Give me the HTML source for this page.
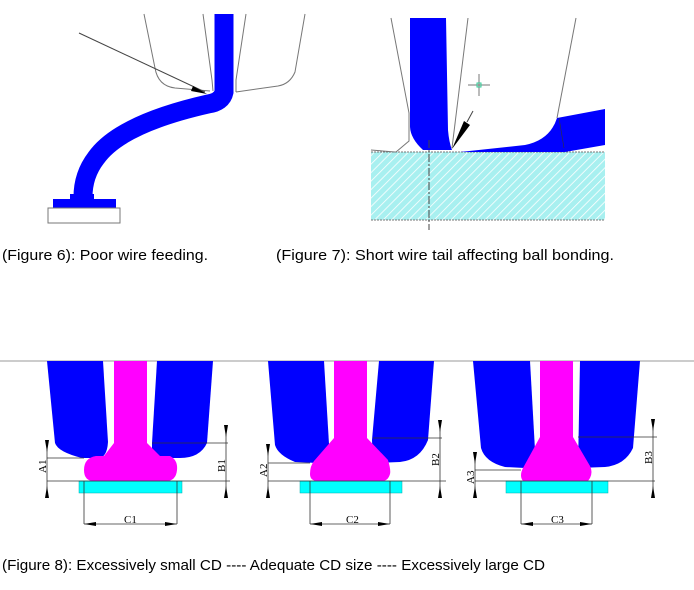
<!DOCTYPE html>
<html><head><meta charset="utf-8"><style>
html,body{margin:0;padding:0;background:#fff;width:694px;height:590px;overflow:hidden}
svg{display:block}
</style></head><body>
<svg width="694" height="590" viewBox="0 0 694 590" xmlns="http://www.w3.org/2000/svg" font-family="Liberation Sans, sans-serif">
<defs>
<pattern id="h" width="6" height="6" patternUnits="userSpaceOnUse" patternTransform="rotate(45)">
<rect width="6" height="6" fill="#a8f0f0"/><line x1="0" y1="0" x2="0" y2="6" stroke="#fff" stroke-width="1.6"/>
</pattern>
</defs>
<!-- Figure 6 -->
<g fill="none" stroke="#777" stroke-width="1">
<path d="M144,14 L155,68 Q158,86 175,88 L210,91"/>
<path d="M203,14 L212,80 L213,91"/>
<path d="M246,14 L236,80 L236,92"/>
<path d="M305,14 L295,72 Q290,84 278,86 L236,92"/>
</g>
<path d="M224,14 L224,92 Q222,102 208,104 Q120,124 96,158 Q83,175 83,197" fill="none" stroke="#0000ff" stroke-width="19"/>
<rect x="70" y="194" width="24" height="6" fill="#0000ff"/>
<rect x="53" y="199" width="63" height="9" fill="#0000ff"/>
<rect x="48" y="208" width="72" height="15" fill="#fff" stroke="#777"/>
<line x1="79" y1="33" x2="205" y2="92" stroke="#444" stroke-width="1"/>
<polygon points="207,94 193,86 191,91" fill="#000"/>
<!-- Figure 7 -->
<rect x="371" y="152" width="234" height="68" fill="url(#h)"/>
<line x1="371" y1="152" x2="605" y2="152" stroke="#777" stroke-dasharray="2,1"/>
<line x1="371" y1="220" x2="605" y2="220" stroke="#777" stroke-dasharray="2,1"/>
<g fill="none" stroke="#777" stroke-width="1">
<path d="M391,18 L409,113 L409,141 L396,152"/>
<path d="M371,150 L395,152"/>
<path d="M468,18 L452,148"/>
<path d="M576,18 L557,118"/>
</g>
<path d="M410,18 L446,18 L448,130 Q449,142 452,150 L423,150 Q410,138 410,126 Z" fill="#0000ff"/>
<path d="M460,152 L525,145 Q550,140 557,118 L605,109 L605,145 L565,152 Z" fill="#0000ff"/>
<line x1="559" y1="118" x2="564" y2="148" stroke="#333" stroke-width="0.6"/>
<polygon points="452,149 464,121 470,125" fill="#000"/>
<line x1="467" y1="122" x2="473" y2="111" stroke="#444"/>
<line x1="468" y1="85" x2="490" y2="85" stroke="#777"/>
<line x1="479" y1="74" x2="479" y2="96" stroke="#777"/>
<rect x="477" y="83" width="4" height="4" fill="none" stroke="#3c9"/>
<line x1="429" y1="140" x2="429" y2="230" stroke="#444" stroke-dasharray="8,2,2,2"/>
<!-- captions -->
<text x="2" y="260" font-size="15" textLength="206" lengthAdjust="spacingAndGlyphs" fill="#000">(Figure 6): Poor wire feeding.</text>
<text x="276" y="260" font-size="15" textLength="338" lengthAdjust="spacingAndGlyphs" fill="#000">(Figure 7): Short wire tail affecting ball bonding.</text>
<!-- Figure 8 -->
<line x1="0" y1="361" x2="694" y2="361" stroke="#999"/>
<g fill="#0000ff">
<path d="M47,361 L103,361 L108,442 Q107,458 98,458 L82,458 Q58,452 55,443 Z"/>
<path d="M157,361 L213,361 L207,443 Q200,458 180,458 L152,458 L152,443 Z"/>
<path d="M268,361 L324,361 L329,444 Q325,462 318,463 L295,462 Q278,455 275,445 Z"/>
<path d="M379,361 L434,361 L428,440 Q420,460 400,462 L373,463 L372,440 Z"/>
<path d="M473,361 L530,361 L535,450 Q533,468 525,468 L505,467 Q485,462 481,448 Z"/>
<path d="M580,361 L640,361 L633,448 Q625,465 605,467 L578,468 Z"/>
</g>
<g fill="#ff00ff">
<path d="M114,361 L147,361 L147,443 L160,456 L170,456 Q178,460 177,470 Q176,481 166,481 L94,481 Q84,481 84,470 Q84,458 96,456 L104,456 L114,443 Z"/>
<path d="M334,361 L367,361 L367,438 L388,460 Q391,470 390,474 Q388,481 382,481 L318,481 Q310,481 310,474 Q310,466 314,461 L334,438 Z"/>
<path d="M540,361 L573,361 L573,437 L590,466 Q593,472 590,478 L588,481 L523,481 Q519,476 523,468 L540,437 Z"/>
</g>
<g fill="#00ffff" stroke="#0aa" stroke-width="0.5">
<rect x="79" y="481" width="103" height="12"/>
<rect x="300" y="481" width="102" height="12"/>
<rect x="506" y="481" width="102" height="12"/>
</g>
<g stroke="#333" stroke-width="0.8" fill="none">
<path d="M47,458 L84,458 M47,481 L230,481 M152,443 L228,443 M47,440 L47,498 M226,425 L226,498 M84,481 L84,524 M177,481 L177,524 M84,524 L177,524"/>
<path d="M268,463 L310,463 M268,481 L446,481 M373,438 L442,438 M268,444 L268,498 M440,420 L440,498 M310,481 L310,524 M390,481 L390,524 M310,524 L390,524"/>
<path d="M475,470 L521,470 M475,481 L655,481 M578,437 L657,437 M475,452 L475,498 M653,419 L653,498 M521,481 L521,524 M592,481 L592,524 M521,524 L592,524"/>
</g>
<g fill="#000">
<polygon points="45,440 49,440 47,452"/><polygon points="45,498 49,498 47,486"/>
<polygon points="224,425 228,425 226,437"/><polygon points="224,498 228,498 226,486"/>
<polygon points="84,524 96,522 96,526"/><polygon points="177,524 165,522 165,526"/>
<polygon points="266,444 270,444 268,456"/><polygon points="266,498 270,498 268,486"/>
<polygon points="438,420 442,420 440,432"/><polygon points="438,498 442,498 440,486"/>
<polygon points="310,524 322,522 322,526"/><polygon points="390,524 378,522 378,526"/>
<polygon points="473,452 477,452 475,464"/><polygon points="473,498 477,498 475,486"/>
<polygon points="651,419 655,419 653,431"/><polygon points="651,498 655,498 653,486"/>
<polygon points="521,524 533,522 533,526"/><polygon points="592,524 580,522 580,526"/>
</g>
<g font-family="Liberation Serif, serif" font-size="11" fill="#000">
<text transform="translate(46,473) rotate(-90)">A1</text>
<text transform="translate(225,472) rotate(-90)">B1</text>
<text x="124" y="523">C1</text>
<text transform="translate(267,477) rotate(-90)">A2</text>
<text transform="translate(439,466) rotate(-90)">B2</text>
<text x="346" y="523">C2</text>
<text transform="translate(474,484) rotate(-90)">A3</text>
<text transform="translate(652,464) rotate(-90)">B3</text>
<text x="551" y="523">C3</text>
</g>
<text x="2" y="570" font-size="15" textLength="543" lengthAdjust="spacingAndGlyphs" fill="#000">(Figure 8): Excessively small CD ---- Adequate CD size ---- Excessively large CD</text>
</svg>
</body></html>
